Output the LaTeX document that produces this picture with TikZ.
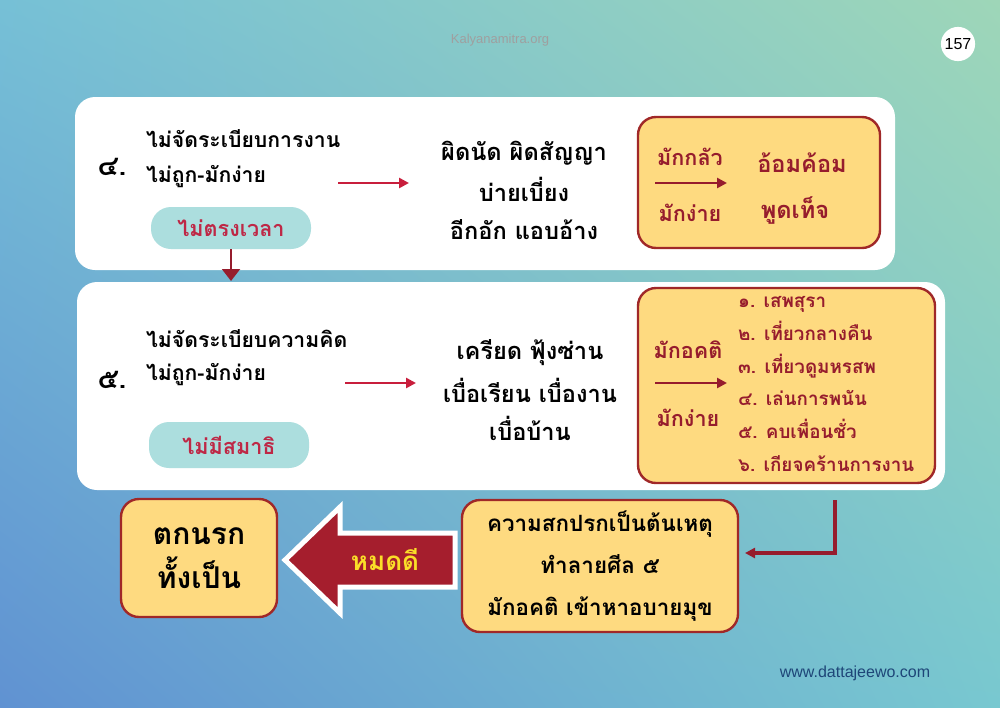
\documentclass[tikz,border=0pt]{standalone}
\usepackage{fontspec}
\usepackage{tikz}
\usetikzlibrary{shapes,arrows.meta,positioning,shadings}
\newfontfamily\thaifont[Script=Thai]{Loma}
\setmainfont{Liberation Sans}
\definecolor{bgblue}{RGB}{96,146,210}
\definecolor{bgteal}{RGB}{118,192,214}
\definecolor{bggreen}{RGB}{158,214,184}
\definecolor{bgaqua}{RGB}{120,200,208}
\definecolor{pill}{RGB}{172,222,222}
\definecolor{boxfill}{RGB}{254,218,128}
\definecolor{boxline}{RGB}{160,40,40}
\definecolor{darkred}{RGB}{150,28,45}
\definecolor{blockred}{RGB}{165,30,45}
\definecolor{gold}{RGB}{250,222,40}
\definecolor{arrowred}{RGB}{200,30,60}
\definecolor{pilltext}{RGB}{190,40,70}
\definecolor{webblue}{RGB}{30,70,120}

\begin{document}
\begin{tikzpicture}[x=0.5pt,y=-0.5pt,
  panel/.style={fill=white,rounded corners=10pt},
  ybox/.style={fill=boxfill,draw=boxline,line width=1.2pt,rounded corners=9pt},
  thai/.style={font=\thaifont\bfseries\fontsize{10.6}{13}\selectfont},
  big/.style={font=\thaifont\bfseries\fontsize{11.8}{14}\selectfont},
  mid/.style={font=\thaifont\bfseries\fontsize{10.8}{13}\selectfont,text=darkred},
  num/.style={font=\thaifont\bfseries\fontsize{14}{16}\selectfont},
  pillbox/.style={fill=pill,rounded corners=10pt,minimum width=80pt,minimum height=21pt,
    text=pilltext,font=\thaifont\bfseries\fontsize{10.8}{13}\selectfont},
  redarrow/.style={-{Triangle[length=5pt,width=5pt]},arrowred,line width=1.3pt},
  brarrow/.style={-{Triangle[length=5pt,width=5pt]},darkred,line width=1.3pt}]
\useasboundingbox (0,0) rectangle (1000,707);
\shade[upper left=bgteal,upper right=bggreen,lower left=bgblue,lower right=bgaqua] (0,0) rectangle (1000,707);
\node[text=gray!75,font=\fontsize{6.5}{8}\selectfont] (site) at (500,40) {Kalyanamitra.org};
\node[circle,fill=white,inner sep=1pt,minimum size=15pt,font=\fontsize{8}{9}\selectfont] (page) at (958,44) {157};

% panel 4
\fill[panel] (75,97) rectangle (895,270);
\node[num] (n4) at (112,167) {๔.};
\node[thai,anchor=west] (a4) at (139,139) {ไม่จัดระเบียบการงาน};
\node[thai,anchor=west] (b4) at (139,177) {ไม่ถูก-มักง่าย};
\node[pillbox] (p4) at (231,228) {ไม่ตรงเวลา};
\coordinate (s4) at (338,183);
\coordinate (f4) at (409,183);
\node[big,align=center] (c4) at (524,190) {ผิดนัด ผิดสัญญา\\[5pt]บ่ายเบี่ยง\\[5pt]อีกอัก แอบอ้าง};
\draw[redarrow] (s4) -- (f4);
\draw[ybox] (638,117) rectangle (880,248);
\node[mid] (k4) at (690,157) {มักกลัว};
\node[mid] (e4) at (690,213) {มักง่าย};
\coordinate (t4) at (655,183);
\coordinate (u4) at (727,183);
\draw[brarrow] (t4) -- (u4);
\node[big,text=darkred] (r4) at (802,163) {อ้อมค้อม};
\node[big,text=darkred] (w4) at (795,210) {พูดเท็จ};

% panel 5
\fill[panel] (77,282) rectangle (945,490);
\coordinate (d4) at (231,281);
\draw[-{Triangle[length=6pt,width=9pt]},darkred,line width=1pt] (p4.south) -- (d4);
\node[num] (n5) at (112,380) {๕.};
\node[thai,anchor=west] (a5) at (139,339) {ไม่จัดระเบียบความคิด};
\node[thai,anchor=west] (b5) at (139,375) {ไม่ถูก-มักง่าย};
\node[pillbox,minimum height=23pt] (p5) at (229,445) {ไม่มีสมาธิ};
\coordinate (s5) at (345,383);
\coordinate (f5) at (416,383);
\node[big,align=center] (c5) at (530,390) {เครียด ฟุ้งซ่าน\\[5pt]เบื่อเรียน เบื่องาน\\[5pt]เบื่อบ้าน};
\draw[redarrow] (s5) -- (f5);
\draw[ybox] (638,288) rectangle (935,483);
\node[mid] (k5) at (688,350) {มักอคติ};
\node[mid] (e5) at (688,418) {มักง่าย};
\coordinate (t5) at (655,383);
\coordinate (u5) at (727,383);
\draw[brarrow] (t5) -- (u5);
\node[text=darkred,anchor=west,align=left,font=\thaifont\bfseries\fontsize{9.4}{16.4}\selectfont] (list) at (731,384)
  {๑. เสพสุรา\\๒. เที่ยวกลางคืน\\๓. เที่ยวดูมหรสพ\\๔. เล่นการพนัน\\๕. คบเพื่อนชั่ว\\๖. เกียจคร้านการงาน};

% bottom row
\node[ybox,minimum width=138pt,minimum height=66pt,align=center,
  font=\thaifont\bfseries\fontsize{11.2}{14}\selectfont] (cause) at (600,566)
  {ความสกปรกเป็นต้นเหตุ\\[7pt]ทำลายศีล ๕\\[7pt]มักอคติ เข้าหาอบายมุข};
\coordinate (top) at (835,500);
\coordinate (corner) at (835,553);
\coordinate (end) at (745,553);
\draw[brarrow,line width=1.6pt] (top) -- (corner) -- (end);
\node[ybox,minimum width=78pt,minimum height=59pt,align=center,
  font=\thaifont\bfseries\fontsize{15}{18}\selectfont] (hell) at (199,558) {ตกนรก\\[4pt]ทั้งเป็น};
\draw[fill=blockred,draw=white,line width=2.5pt,line join=miter]
  (285,560) -- (340,507) -- (340,533) -- (455,533) -- (455,587) -- (340,587) -- (340,613) -- cycle;
\node[text=gold,font=\thaifont\bfseries\fontsize{13}{16}\selectfont] (gone) at (385,560) {หมดดี};
\node[text=webblue,font=\fontsize{8}{10}\selectfont] (web) at (855,673) {www.dattajeewo.com};
\end{tikzpicture}
\end{document}
